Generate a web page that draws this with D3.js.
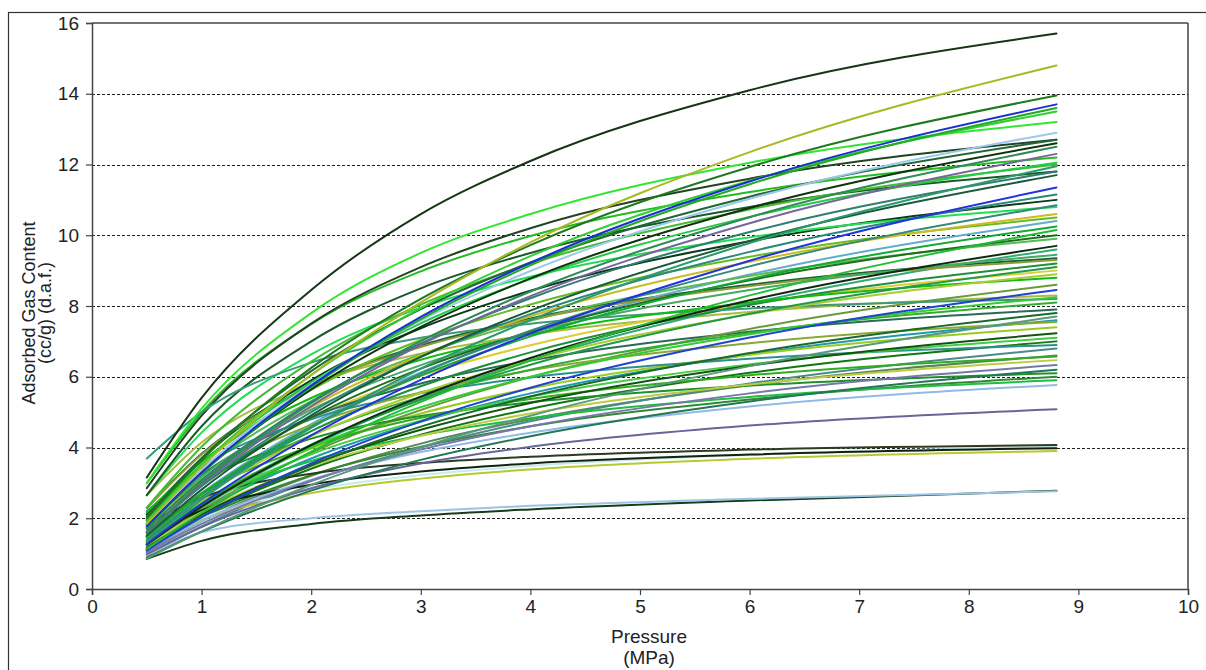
<!DOCTYPE html>
<html>
<head>
<meta charset="utf-8">
<script src="https://cdn.jsdelivr.net/npm/d3@7"></script>
<style>
  html, body { margin: 0; padding: 0; background: #fff; }
  svg { display: block; font-family: "Liberation Sans", Arial, sans-serif; }
</style>
</head>
<body>
<svg id="chart" width="1206" height="670"></svg>
<script>
// ---------- data ----------
const xTicks = [0, 1, 2, 3, 4, 5, 6, 7, 8, 9, 10];
const yTicks = [0, 2, 4, 6, 8, 10, 12, 14, 16];
const gridValues = [2, 4, 6, 8, 10, 12, 14];
const xTitle = ["Pressure", "(MPa)"];
const yTitle = ["Adsorbed Gas Content", "(cc/g) (d.a.f.)"];

// pressures (MPa) at which every isotherm was read
const pressureKnots = [0.5, 1, 2, 3, 4, 6, 8.8];

// adsorbed gas content (cc/g) of each isotherm at pressureKnots
const isothermValues = [
  [3.15, 5.4, 8.45, 10.6, 12.1, 14.1, 15.7],
  [1.85, 3.45, 6.05, 8.1, 9.8, 12.35, 14.8],
  [2.0, 3.64, 6.25, 8.2, 9.72, 11.93, 13.95],
  [1.77, 3.29, 5.75, 7.69, 9.22, 11.52, 13.7],
  [1.75, 3.26, 5.71, 7.63, 9.15, 11.44, 13.6],
  [1.93, 3.52, 6.05, 7.94, 9.41, 11.54, 13.5],
  [3.0, 5.1, 7.8, 9.5, 10.6, 12.05, 13.2],
  [1.84, 3.37, 5.78, 7.59, 8.99, 11.03, 12.9],
  [2.06, 3.7, 6.16, 7.91, 9.23, 11.09, 12.7],
  [1.8, 3.29, 5.64, 7.41, 8.78, 10.77, 12.6],
  [1.61, 3.0, 5.25, 7.01, 8.41, 10.51, 12.5],
  [1.59, 2.95, 5.17, 6.9, 8.28, 10.34, 12.3],
  [1.95, 3.51, 5.84, 7.51, 8.76, 10.52, 12.05],
  [2.3, 4.02, 6.43, 8.04, 9.19, 10.73, 12.0],
  [1.34, 2.53, 4.56, 6.23, 7.6, 9.78, 11.95],
  [1.69, 3.08, 5.29, 6.94, 8.22, 10.09, 11.8],
  [1.51, 2.81, 4.91, 6.56, 7.87, 9.84, 11.7],
  [1.27, 2.41, 4.34, 5.91, 7.22, 9.28, 11.35],
  [1.59, 2.91, 5.0, 6.56, 7.77, 9.53, 11.15],
  [1.4, 2.6, 4.56, 6.09, 7.3, 9.12, 10.85],
  [1.72, 3.08, 5.14, 6.6, 7.71, 9.25, 10.6],
  [2.02, 3.52, 5.63, 7.04, 8.04, 9.39, 10.5],
  [1.47, 2.68, 4.59, 6.03, 7.14, 8.76, 10.25],
  [1.14, 2.15, 3.88, 5.29, 6.46, 8.3, 10.15],
  [1.62, 2.91, 4.85, 6.23, 7.27, 8.73, 10.0],
  [1.25, 2.33, 4.07, 5.44, 6.53, 8.16, 9.7],
  [1.81, 3.17, 5.07, 6.33, 7.24, 8.45, 9.45],
  [2.28, 3.8, 5.71, 6.84, 7.61, 8.56, 9.3],
  [1.3, 2.38, 4.08, 5.35, 6.34, 7.78, 9.1],
  [1.44, 2.59, 4.32, 5.54, 6.47, 7.77, 8.9],
  [2.16, 3.6, 5.4, 6.48, 7.2, 8.1, 8.8],
  [1.09, 2.03, 3.55, 4.74, 5.69, 7.11, 8.45],
  [1.34, 2.4, 4.0, 5.14, 6.0, 7.2, 8.25],
  [1.56, 2.71, 4.34, 5.43, 6.2, 7.24, 8.1],
  [1.12, 2.04, 3.49, 4.59, 5.44, 6.67, 7.8],
  [0.86, 1.63, 2.94, 4.01, 4.9, 6.3, 7.7],
  [1.85, 3.09, 4.64, 5.56, 6.18, 6.95, 7.55],
  [1.17, 2.1, 3.51, 4.5, 5.26, 6.31, 7.23],
  [1.36, 2.38, 3.81, 4.76, 5.44, 6.35, 7.1],
  [2.2, 3.44, 4.8, 5.53, 5.98, 6.51, 6.9],
  [1.61, 2.69, 4.03, 4.84, 5.37, 6.04, 6.57],
  [1.24, 2.17, 3.47, 4.33, 4.96, 5.78, 6.47],
  [1.03, 1.84, 3.07, 3.94, 4.6, 5.53, 6.33],
  [0.89, 1.62, 2.78, 3.65, 4.32, 5.3, 6.2],
  [1.95, 3.04, 4.25, 4.89, 5.28, 5.75, 6.1],
  [1.45, 2.41, 3.62, 4.34, 4.83, 5.43, 5.9],
  [1.11, 1.93, 3.09, 3.87, 4.42, 5.16, 5.77],
  [0.98, 1.75, 2.85, 3.55, 4.02, 4.62, 5.08],
  [1.83, 2.58, 3.26, 3.56, 3.74, 3.94, 4.07],
  [1.48, 2.22, 2.95, 3.32, 3.55, 3.8, 3.98],
  [1.24, 1.95, 2.71, 3.12, 3.38, 3.68, 3.9],
  [1.28, 2.0, 2.8, 3.22, 3.48, 3.79, 4.02],
  [0.95, 1.6, 2.0, 2.2, 2.35, 2.55, 2.76],
  [0.85, 1.36, 1.84, 2.08, 2.25, 2.5, 2.78],
  [3.69, 5.0, 6.4, 7.1, 7.5, 7.93, 8.2],
  [2.85, 4.9, 7.5, 9.1, 10.2, 11.6, 12.7],
  [2.65, 4.6, 7.0, 8.5, 9.5, 10.8, 11.8],
  [1.9, 3.32, 5.31, 6.63, 7.58, 8.85, 9.9],
  [1.49, 2.68, 4.46, 5.73, 6.69, 8.03, 9.2],
  [1.23, 2.24, 3.85, 5.06, 5.99, 7.35, 8.6],
  [1.94, 3.23, 4.85, 5.81, 6.46, 7.27, 7.9],
  [1.42, 2.48, 3.97, 4.96, 5.67, 6.62, 7.4],
  [1.13, 2.04, 3.4, 4.36, 5.09, 6.11, 7.0],
  [0.97, 1.77, 3.05, 4.0, 4.74, 5.81, 6.8],
  [2.65, 4.42, 6.63, 7.95, 8.83, 9.94, 10.8],
  [2.11, 3.69, 5.9, 7.37, 8.43, 9.83, 11.0],
  [1.24, 2.3, 4.03, 5.39, 6.46, 8.07, 9.6],
  [1.73, 3.02, 4.82, 6.03, 6.89, 8.05, 9.0],
  [1.23, 2.21, 3.69, 4.73, 5.53, 6.63, 7.6],
  [1.15, 2.01, 3.22, 4.02, 4.6, 5.36, 6.0],
  [1.49, 2.71, 4.66, 6.12, 7.25, 8.89, 10.4],
  [2.99, 4.99, 7.49, 8.98, 9.98, 11.22, 12.2],
  [2.65, 4.14, 5.78, 6.65, 7.19, 7.83, 8.3],
  [2.29, 3.82, 5.74, 6.88, 7.65, 8.6, 9.35],
  [1.07, 1.92, 3.2, 4.11, 4.8, 5.76, 6.6]
];

const isothermColors = [
  "#163516", "#a9b823", "#1e7a1e", "#1a2fd0", "#22aa22", "#33cc33", "#33e633",
  "#9cc8ec", "#226633", "#113311", "#2e8b57", "#776699", "#22cc44", "#44bb33",
  "#2a9a6a", "#2f7f6f", "#1a5a3a", "#2233dd", "#2a8a7a", "#338877", "#ccbb22",
  "#66bb22", "#11aa33", "#22bb33", "#1f6f1f", "#0f2a0f", "#44aa66", "#8f9a3a",
  "#229944", "#aacc33", "#11bb11", "#2244cc", "#33cc33", "#33aa33", "#1a6a2a",
  "#5a9a7a", "#88aa33", "#115511", "#44cc44", "#2f8f8f", "#33aa22", "#bbcc44",
  "#7777aa", "#227755", "#1f8f2f", "#22bb44", "#8fbbe6", "#666699", "#2f3a22",
  "#112211", "#b8c830", "#c4ecec", "#9cc4e6", "#173a17", "#3a9a7a", "#224422",
  "#1a5a2a", "#55bb55", "#1e8e3e", "#6a9a3a", "#2a6a5a", "#99cc22", "#117711",
  "#4a8a8a", "#22dd55", "#0a3a1a", "#33aa77", "#ddcc33", "#2299aa", "#338833",
  "#66aacc", "#22bb22", "#aabb44", "#116633", "#558855"
];

// ---------- layout ----------
const svg = d3.select("#chart");
const margin = { left: 92, top: 23, right: 1188, bottom: 589 };

const x = d3.scaleLinear().domain([0, 10]).range([margin.left, margin.right]);
const y = d3.scaleLinear().domain([0, 16]).range([margin.bottom, margin.top]);

// outer frame
svg.append("rect")
  .attr("x", 8.5).attr("y", 12.5)
  .attr("width", 1210).attr("height", 700)
  .attr("fill", "none").attr("stroke", "#333").attr("stroke-width", 1.2);

// grid lines
svg.append("g").selectAll("line").data(gridValues).join("line")
  .attr("x1", x(0)).attr("x2", x(10))
  .attr("y1", d => Math.round(y(d)) + 0.5).attr("y2", d => Math.round(y(d)) + 0.5)
  .attr("stroke", "#222").attr("stroke-width", 1)
  .attr("stroke-dasharray", "3,2");

// plot box top / right
svg.append("line").attr("x1", x(0)).attr("x2", x(10))
  .attr("y1", y(16)).attr("y2", y(16)).attr("stroke", "#444").attr("stroke-width", 1.5);
svg.append("line").attr("x1", x(10)).attr("x2", x(10))
  .attr("y1", y(16)).attr("y2", y(0)).attr("stroke", "#444").attr("stroke-width", 1.5);

// isotherms
const line = d3.line()
  .x(d => x(d[0]))
  .y(d => y(d[1]))
  .curve(d3.curveMonotoneX);

const order = d3.range(isothermValues.length).reverse();
svg.append("g").selectAll("path").data(order).join("path")
  .attr("d", i => line(pressureKnots.map((p, k) => [p, isothermValues[i][k]])))
  .attr("fill", "none")
  .attr("stroke", i => isothermColors[i])
  .attr("stroke-width", 2)
  .attr("stroke-linecap", "round");

// axes
const xAxis = d3.axisBottom(x).tickValues(xTicks).tickSize(6).tickFormat(d3.format("d"));
const yAxis = d3.axisLeft(y).tickValues(yTicks).tickSize(6).tickFormat(d3.format("d"));

const gx = svg.append("g").attr("transform", `translate(0,${y(0)})`).call(xAxis);
const gy = svg.append("g").attr("transform", `translate(${x(0)},0)`).call(yAxis);
[gx, gy].forEach(g => {
  g.select(".domain").attr("stroke", "#444").attr("stroke-width", 1.5);
  g.selectAll(".tick line").attr("stroke", "#444").attr("stroke-width", 1.2);
  g.selectAll(".tick text").attr("fill", "#222")
    .style("font-size", "19px").style("font-family", '"Liberation Sans", Arial, sans-serif');
});
gx.selectAll(".tick text").attr("dy", "0.9em").attr("y", 7);
gy.selectAll(".tick text").attr("x", -13);

// axis titles
svg.append("g").selectAll("text").data(xTitle).join("text")
  .attr("x", 649).attr("y", (d, i) => 643 + i * 21)
  .attr("text-anchor", "middle").attr("fill", "#222")
  .style("font-size", "19px").text(d => d);

svg.append("g").selectAll("text").data(yTitle).join("text")
  .attr("transform", (d, i) => `translate(${35 + i * 16},313) rotate(-90)`)
  .attr("text-anchor", "middle").attr("fill", "#222")
  .style("font-size", "18px").text(d => d);
</script>
</body>
</html>
